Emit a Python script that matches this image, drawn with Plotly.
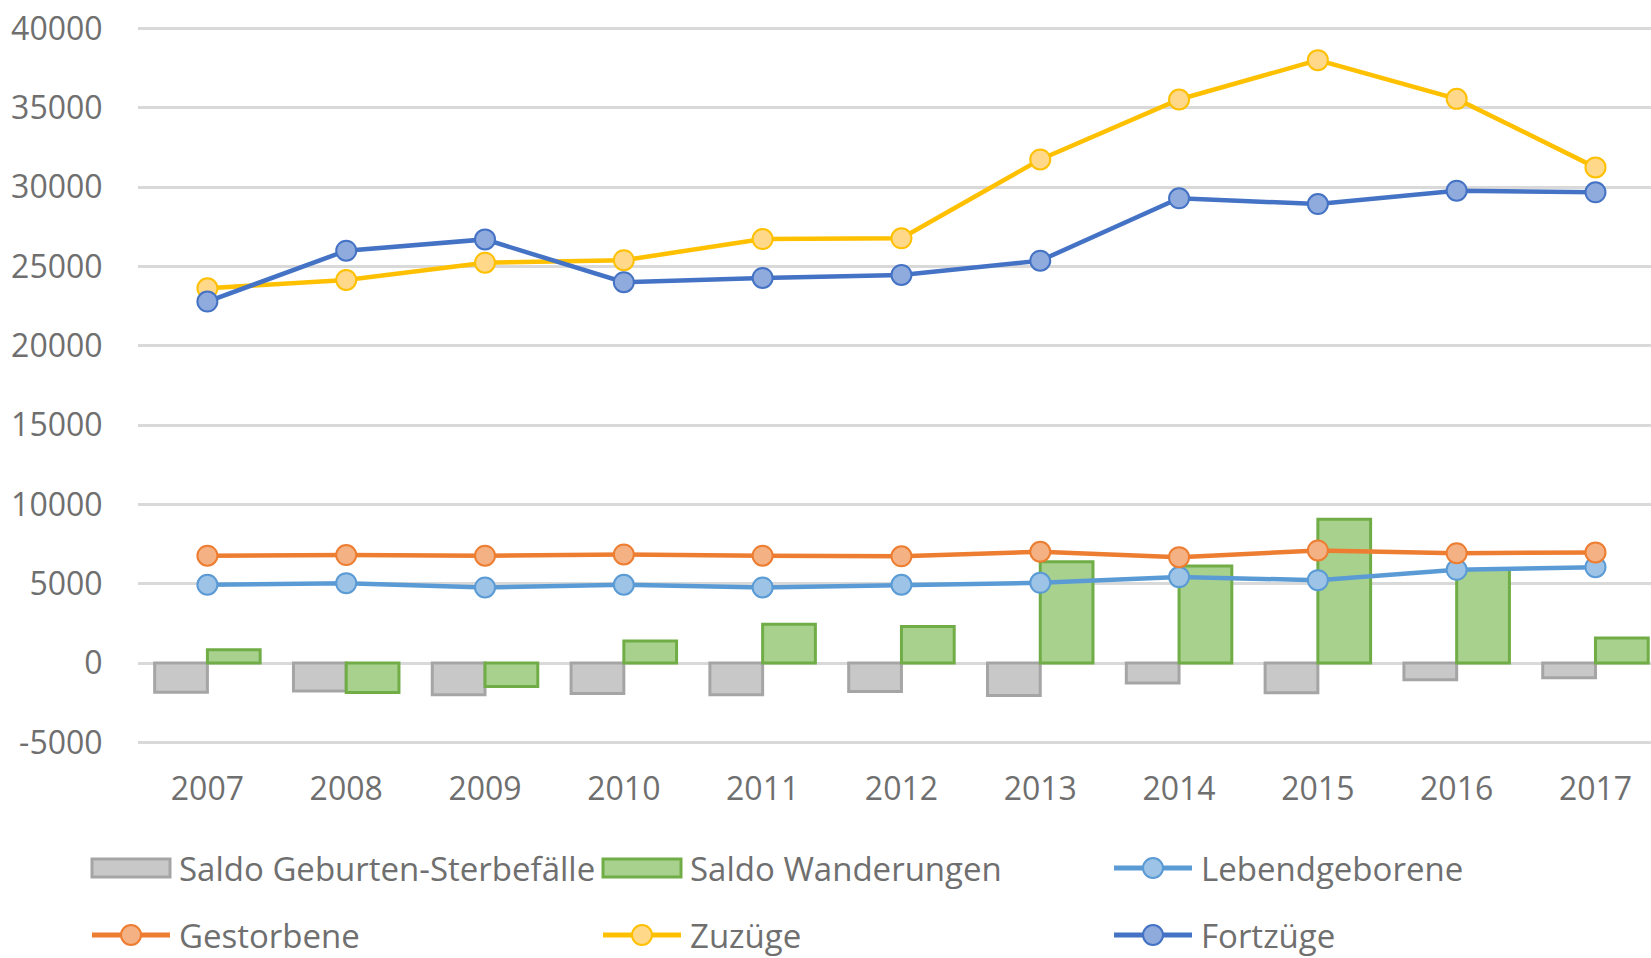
import plotly.graph_objects as go

years = ["2007", "2008", "2009", "2010", "2011", "2012", "2013", "2014", "2015", "2016", "2017"]
saldo_geburten = [-1830, -1760, -2000, -1910, -2000, -1790, -2050, -1260, -1870, -1050, -930]
saldo_wanderungen = [840, -1850, -1470, 1390, 2450, 2310, 6390, 6120, 9070, 5900, 1580]
lebendgeborene = [4940, 5040, 4770, 4940, 4770, 4940, 5060, 5420, 5230, 5880, 6050]
gestorbene = [6770, 6810, 6770, 6850, 6770, 6730, 7020, 6680, 7100, 6930, 6980]
zuzuege = [23630, 24150, 25240, 25400, 26730, 26780, 31750, 35530, 38010, 35570, 31250]
fortzuege = [22790, 26000, 26710, 24010, 24280, 24470, 25370, 29300, 28940, 29780, 29680]
y_ticks = [-5000, 0, 5000, 10000, 15000, 20000, 25000, 30000, 35000, 40000]
y_labels = ["-5000", "0", "5000", "10000", "15000", "20000", "25000", "30000", "35000", "40000"]

x = list(range(len(years)))
font_family = "Open Sans"
text_color = "#6f6f6f"

# plot area in pixels
L, R, T, B = 138, 1651, 27, 744
W, H = 1651, 958

def px(v):
    return (v - L) / (R - L)

def py(v):
    return (B - v) / (B - T)

fig = go.Figure()

# bars first, lines on top
fig.add_trace(go.Bar(
    x=x, y=saldo_geburten, name="Saldo Geburten-Sterbefälle",
    width=0.38, offset=-0.38,
    marker=dict(color="#c8c8c8", line=dict(color="#a5a5a5", width=3)),
))
fig.add_trace(go.Bar(
    x=x, y=saldo_wanderungen, name="Saldo Wanderungen",
    width=0.38, offset=0,
    marker=dict(color="#a9d18e", line=dict(color="#70ad47", width=3)),
))

series = [
    (lebendgeborene, "Lebendgeborene", "#5b9bd5", "#9dc3e6"),
    (gestorbene, "Gestorbene", "#ed7d31", "#f4b183"),
    (zuzuege, "Zuzüge", "#ffc000", "#ffd88a"),
    (fortzuege, "Fortzüge", "#4472c4", "#8faadc"),
]
for values, name, line_color, fill_color in series:
    fig.add_trace(go.Scatter(
        x=x, y=values, name=name, mode="lines+markers",
        line=dict(color=line_color, width=4.5),
        marker=dict(size=20, color=fill_color, line=dict(color=line_color, width=2)),
    ))

# hand-made legend below the chart (two rows, three columns)
legend_items = [
    ("bar", "Saldo Geburten-Sterbefälle", "#a5a5a5", "#c8c8c8", 92, 868),
    ("bar", "Saldo Wanderungen", "#70ad47", "#a9d18e", 603, 868),
    ("line", "Lebendgeborene", "#5b9bd5", "#9dc3e6", 1114, 868),
    ("line", "Gestorbene", "#ed7d31", "#f4b183", 92, 935),
    ("line", "Zuzüge", "#ffc000", "#ffd88a", 603, 935),
    ("line", "Fortzüge", "#4472c4", "#8faadc", 1114, 935),
]
shapes = []
annotations = []
for kind, label, edge, fill, x0, yc in legend_items:
    if kind == "bar":
        shapes.append(dict(type="rect", xref="paper", yref="paper",
                           x0=px(x0), x1=px(x0 + 78), y0=py(yc + 9), y1=py(yc - 9),
                           fillcolor=fill, line=dict(color=edge, width=3)))
    else:
        shapes.append(dict(type="line", xref="paper", yref="paper",
                           x0=px(x0), x1=px(x0 + 78), y0=py(yc), y1=py(yc),
                           line=dict(color=edge, width=5)))
        cx = x0 + 39
        shapes.append(dict(type="circle", xref="paper", yref="paper",
                           x0=px(cx - 10), x1=px(cx + 10), y0=py(yc + 10), y1=py(yc - 10),
                           fillcolor=fill, line=dict(color=edge, width=2)))
    annotations.append(dict(text=label, xref="paper", yref="paper",
                            x=px(x0 + 85), y=py(yc), xanchor="left", yanchor="middle",
                            showarrow=False,
                            font=dict(family=font_family, size=33, color=text_color)))

fig.update_layout(
    width=W, height=H,
    paper_bgcolor="white", plot_bgcolor="white",
    margin=dict(l=L, r=W - R, t=T, b=H - B),
    barmode="overlay",
    showlegend=False,
    font=dict(family=font_family, size=32, color=text_color),
    shapes=shapes,
    annotations=annotations,
)

fig.update_xaxes(
    range=[-0.5, 10.4],
    tickvals=x, ticktext=years,
    showgrid=False, showline=False, zeroline=False,
    ticks="outside", ticklen=17, tickcolor="rgba(0,0,0,0)",
    tickfont=dict(family=font_family, size=32, color=text_color),
)
fig.update_yaxes(
    range=[-5100, 40100],
    tickvals=y_ticks, ticktext=y_labels,
    showgrid=True, gridcolor="#d9d9d9", gridwidth=3,
    zeroline=True, zerolinecolor="#d9d9d9", zerolinewidth=3,
    showline=False,
    ticks="outside", ticklen=28, tickcolor="rgba(0,0,0,0)",
    tickfont=dict(family=font_family, size=32, color=text_color),
)

# page body has a default margin; remove it so the figure fills the window
fig.write_html("out.html", config={"displayModeBar": False},
               post_script="document.body.style.margin='0px';")
